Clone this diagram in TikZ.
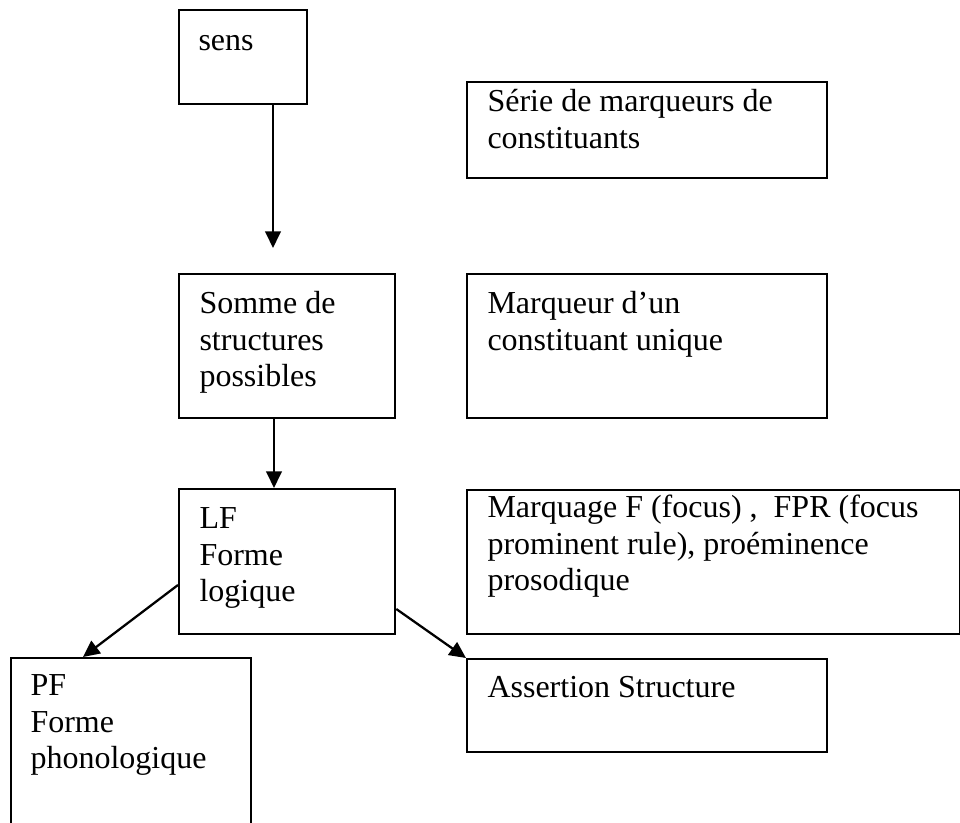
\documentclass[tikz,border=0pt]{standalone}
\usepackage{fontspec}
\setmainfont{Liberation Serif}
\usetikzlibrary{arrows.meta,calc}

\begin{document}
\begin{tikzpicture}[x=0.375pt, y=-0.375pt, font=\fontsize{12}{13.8}\selectfont,
  box/.style={draw=black, line width=0.85pt, anchor=north west, inner sep=0pt},
  txt/.style={anchor=north west, inner sep=0pt, align=left},
  arr/.style={-{Triangle[length=6.2pt, width=5.8pt]}, line width=0.85pt}]
\useasboundingbox (0,0) rectangle (960,823);
% left column
\node[box, minimum width=48pt, minimum height=35.25pt] (sens) at (178,9) {};
\node[box, minimum width=81pt, minimum height=54pt] (somme) at (178,273) {};
\node[box, minimum width=81pt, minimum height=54.4pt] (lf) at (178,488) {};
\node[box, minimum width=90pt, minimum height=66pt] (pf) at (10,657) {};
% right column
\node[box, minimum width=135pt, minimum height=36pt] (serie) at (466,81) {};
\node[box, minimum width=135pt, minimum height=54pt] (marqueur) at (466,273) {};
\node[box, minimum width=184.9pt, minimum height=54pt] (marquage) at (466,489) {};
\node[box, minimum width=135pt, minimum height=34.9pt] (assertion) at (466,658) {};
% texts
\node[txt] (sens-t) at ($(sens.north west)+(20,15)$) {\strut sens};
\node[txt] (somme-t) at ($(somme.north west)+(21,14)$) {\strut Somme de\\structures\\possibles};
\node[txt] (lf-t) at ($(lf.north west)+(21,14)$) {\strut LF\\Forme\\logique};
\node[txt] (pf-t) at ($(pf.north west)+(20,12)$) {\strut PF\\Forme\\phonologique};
\node[txt] (serie-t) at ($(serie.north west)+(21,4)$) {\strut Série de marqueurs de\\constituants};
\node[txt] (marqueur-t) at ($(marqueur.north west)+(21,14)$) {\strut Marqueur d’un\\constituant unique};
\node[txt] (marquage-t) at ($(marquage.north west)+(21,2)$) {\strut Marquage F (focus) ,\ \ FPR (focus\\prominent rule), proéminence\\prosodique};
\node[txt] (assertion-t) at ($(assertion.north west)+(21,13)$) {\strut Assertion Structure};
% arrows
\coordinate (a1) at (273,248);
\draw[arr] (sens.south -| a1) -- (a1);
\draw[arr] ($(somme.south west)+(96,0)$) -- ($(lf.north west)+(96,0)$);
\draw[arr] ($(lf.north west)+(0,97)$) -- ($(pf.north west)+(73,0)$);
\draw[arr] ($(lf.north east)+(0,121)$) -- (assertion.north west);
\end{tikzpicture}
\end{document}
